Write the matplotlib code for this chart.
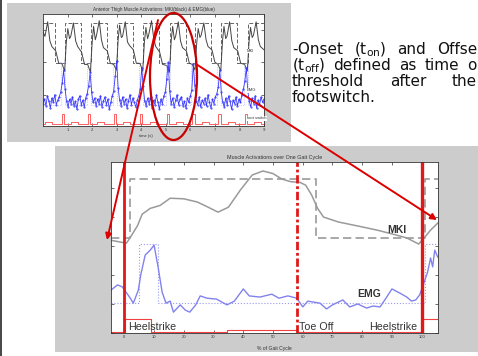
#!/usr/bin/env python3
"""Slide: MKI / EMG muscle activation over time and over one gait cycle."""

import matplotlib
matplotlib.use("Agg")
import matplotlib.pyplot as plt
from matplotlib.patches import Rectangle, Ellipse

# ---------------- top chart data (time in s, arbitrary units) ----------------
heel_strikes = [0.77, 1.82, 2.88, 3.95, 5.04, 6.08, 7.13, 8.21]
pulse_off = [0.87, 1.92, 2.98, 4.05, 5.14, 6.18, 7.23, 8.31]
mid_on = [0.10, 1.15, 2.20, 3.26, 4.34, 5.42, 6.47, 7.53, 8.60]
mid_off = [0.37, 1.42, 2.47, 3.53, 4.61, 5.69, 6.74, 7.80, 8.87]

mki_t = [0.00, 0.08, 0.19, 0.28, 0.36, 0.52, 0.64,
         0.77, 0.88, 0.95, 1.01, 1.08, 1.13, 1.24, 1.33, 1.41, 1.57, 1.69,
         1.82, 1.93, 2.00, 2.06, 2.13, 2.18, 2.29, 2.38, 2.46, 2.62, 2.74,
         2.88, 2.99, 3.06, 3.12, 3.19, 3.24, 3.35, 3.44, 3.52, 3.68, 3.80,
         3.95, 4.06, 4.13, 4.19, 4.26, 4.31, 4.42, 4.51, 4.59, 4.75, 4.87,
         5.04, 5.15, 5.22, 5.28, 5.35, 5.40, 5.51, 5.60, 5.68, 5.84, 5.96,
         6.08, 6.19, 6.26, 6.32, 6.39, 6.44, 6.55, 6.64, 6.72, 6.88, 7.00,
         7.13, 7.24, 7.31, 7.37, 7.44, 7.49, 7.60, 7.69, 7.77, 7.93, 8.05,
         8.21, 8.32, 8.39, 8.45, 8.52, 8.57, 8.68, 8.77, 8.85, 9.00]
mki_v = [0.84, 0.80, 0.93, 0.76, 0.71, 0.67, 0.56,
         0.56, 0.49, 0.75, 0.87, 0.78, 0.80, 0.92, 0.76, 0.71, 0.66, 0.55,
         0.55, 0.48, 0.74, 0.89, 0.77, 0.81, 0.94, 0.77, 0.70, 0.67, 0.56,
         0.55, 0.50, 0.77, 0.90, 0.79, 0.80, 0.93, 0.75, 0.72, 0.68, 0.56,
         0.56, 0.49, 0.75, 0.88, 0.78, 0.82, 0.94, 0.78, 0.71, 0.66, 0.55,
         0.54, 0.48, 0.76, 0.89, 0.77, 0.80, 0.93, 0.76, 0.70, 0.67, 0.56,
         0.55, 0.50, 0.74, 0.87, 0.79, 0.81, 0.92, 0.77, 0.71, 0.68, 0.57,
         0.55, 0.49, 0.76, 0.89, 0.78, 0.80, 0.93, 0.76, 0.70, 0.67, 0.56,
         0.55, 0.49, 0.75, 0.88, 0.79, 0.81, 0.93, 0.77, 0.71, 0.68]
mki_on_top = [0.89, 1.94, 3.00, 4.07, 5.16, 6.20, 7.25, 8.33]
mki_off_top = [0.50, 1.55, 2.60, 3.66, 4.73, 5.82, 6.86, 7.91, 8.99]

emg_dt = 0.06
emg_v = [0.20, 0.24, 0.18, 0.27, 0.22, 0.16, 0.25, 0.21, 0.28, 0.19,
         0.23, 0.26, 0.30, 0.38, 0.50, 0.33, 0.22, 0.17, 0.24, 0.20,
         0.26, 0.18, 0.22, 0.15, 0.24, 0.27, 0.19, 0.23, 0.17, 0.25,
         0.29, 0.36, 0.48, 0.30, 0.21, 0.25, 0.18, 0.24, 0.20, 0.27,
         0.17, 0.22, 0.26, 0.19, 0.24, 0.15, 0.21, 0.27, 0.31, 0.45,
         0.58, 0.34, 0.23, 0.18, 0.26, 0.20, 0.24, 0.16, 0.22, 0.28,
         0.19, 0.25, 0.21, 0.17, 0.23, 0.27, 0.33, 0.52, 0.36, 0.22,
         0.18, 0.25, 0.20, 0.26, 0.16, 0.23, 0.19, 0.28, 0.21, 0.15,
         0.24, 0.20, 0.27, 0.30, 0.42, 0.57, 0.31, 0.20, 0.25, 0.17,
         0.23, 0.28, 0.19, 0.24, 0.26, 0.18, 0.22, 0.16, 0.25, 0.21,
         0.27, 0.32, 0.55, 0.37, 0.22, 0.19, 0.26, 0.17, 0.23, 0.20,
         0.25, 0.18, 0.28, 0.21, 0.16, 0.24, 0.20, 0.26, 0.29, 0.35,
         0.50, 0.30, 0.21, 0.17, 0.25, 0.19, 0.27, 0.22, 0.15, 0.23,
         0.20, 0.26, 0.18, 0.24, 0.21, 0.28, 0.33, 0.40, 0.52, 0.31,
         0.22, 0.17, 0.25, 0.20, 0.27, 0.16, 0.23, 0.19, 0.26, 0.21, 0.24]
emg_on_top = [0.73, 1.78, 2.84, 3.91, 5.00, 6.04, 7.09, 8.17]
emg_off_top = [0.89, 1.94, 3.00, 4.07, 5.16, 6.20, 7.25, 8.33]

# ---------------- bottom chart data (% of gait cycle) ----------------
mki_pct = [-4.5, -2, 0.7, 2, 4.4, 6, 8.7, 12, 15.4, 20, 24.5, 28, 31.5, 35, 39,
           43, 46.6, 50, 53, 56, 59, 61, 63, 65, 67, 72, 80, 85, 90, 95, 99,
           101, 103, 105.5]
mki_val = [3.20, 3.15, 3.10, 3.30, 3.70, 4.10, 4.30, 4.40, 4.65, 4.63, 4.52,
           4.35, 4.17, 4.34, 4.93, 5.45, 5.59, 5.50, 5.31, 5.22, 5.20, 5.10,
           4.76, 4.30, 4.00, 3.83, 3.66, 3.55, 3.42, 3.28, 3.07, 3.30, 3.55, 3.80]
mki_on_pct = [2, 101]
mki_off_pct = [64.4]

emg_pct = [-4.5, -2.3, -0.7, 2, 3, 4.7, 5.5, 7, 8.7, 10, 11.4, 12.7, 14, 15.4,
           16.5, 18.8, 20.5, 22, 24, 25.5, 27.8, 31, 34.5, 37, 40, 42, 45.6,
           49.6, 52, 55, 58, 60, 61.7, 63.4, 65.8, 68, 70, 73.5, 75.8, 78.5,
           81.5, 83.6, 86, 88, 90, 92.6, 95, 96.6, 98, 99.3, 100.3, 102, 103,
           103.7, 104.4, 105.4]
emg_val = [1.48, 1.66, 1.59, 1.20, 1.03, 1.48, 2.00, 2.69, 2.86, 3.03, 2.24,
           1.41, 1.03, 1.10, 0.72, 0.97, 0.79, 0.72, 0.97, 1.28, 1.20, 1.17,
           0.97, 1.10, 1.52, 1.28, 1.24, 1.34, 1.20, 1.28, 1.20, 0.90, 1.10,
           1.07, 1.03, 0.83, 0.97, 1.14, 0.90, 1.00, 0.86, 0.93, 0.90, 1.20,
           1.52, 1.38, 1.24, 1.10, 1.14, 1.31, 1.59, 2.10, 2.59, 2.28, 2.86, 2.62]
emg_on_pct = [5, 101]
emg_off_pct = [11.4]

fs_events_pct = [(0.1, 0.5), (9.0, 0.03), (34.5, 0.12), (58.0, 0.03), (100.5, 0.5)]
event_pct = [0, 58, 100]
event_names = ["Heelstrike", "Toe Off", "Heelstrike"]

# slide text as visible in the (cropped) screenshot
slide_lines = [
    ["-Onset", r"(t$_{\mathrm{on}}$)", "and", "Offse"],
    [r"(t$_{\mathrm{off}}$)", "defined", "as", "time", "o"],
    ["threshold", "after", "the"],
    ["footswitch."],
]

W, H = 478, 356
FONT = "Liberation Sans"
plt.rcParams["font.family"] = [FONT, "DejaVu Sans"]
plt.rcParams["mathtext.fontset"] = "dejavusans"


def steps(x0, x1, level, events):
    xs, ys = [x0], [level]
    for t, new in sorted(events):
        xs += [t, t]
        ys += [level, new]
        level = new
    xs.append(x1)
    ys.append(level)
    return xs, ys


def box(x0, y0, x1, y1):
    return [x0 / W, 1 - y1 / H, (x1 - x0) / W, (y1 - y0) / H]


def matlab_axes(ax):
    for s in ax.spines.values():
        s.set_linewidth(0.6)
        s.set_color("#333333")
    ax.tick_params(direction="in", length=2, width=0.5, top=True, right=True,
                   labelsize=3, colors="#333333", pad=1.5)


fig = plt.figure(figsize=(W / 100, H / 100), dpi=100)
fig.patch.set_facecolor("white")

bg = fig.add_axes([0, 0, 1, 1], zorder=-5)
bg.set_xlim(0, W)
bg.set_ylim(H, 0)
bg.axis("off")
bg.add_patch(Rectangle((0, 0), 2, H, fc="#4a4a4a", ec="none"))
bg.add_patch(Rectangle((7, 3), 284, 139, fc="#cccccc", ec="none"))
bg.add_patch(Rectangle((55, 146), 423, 206, fc="#cccccc", ec="none"))

# ---------------- top chart ----------------
ax1 = fig.add_axes(box(43, 14, 264, 126))
matlab_axes(ax1)
tx, ty = steps(0, 9, 0.92, [(t, 0.92) for t in mki_on_top] + [(t, 0.565) for t in mki_off_top])
ax1.plot(tx, ty, color="#666666", lw=0.7, dashes=(4, 2))
ax1.plot(mki_t, mki_v, color="#444444", lw=0.7)
ex, ey = steps(0, 9, 0.19, [(t, 0.56) for t in emg_on_top] + [(t, 0.19) for t in emg_off_top])
ax1.plot(ex, ey, color="#9a9aff", lw=0.5, ls=":")
emg_t = [i * emg_dt for i in range(len(emg_v))]
ax1.plot(emg_t, emg_v, color="#3838ff", lw=0.6, marker=".", ms=1.0)
fx, fy = steps(0, 9, 0.018, [(t, 0.104) for t in heel_strikes] + [(t, 0.018) for t in pulse_off]
               + [(t, 0.04) for t in mid_on] + [(t, 0.018) for t in mid_off])
ax1.plot(fx, fy, color="#ff6060", lw=0.7)
ax1.set_xlim(0, 9)
ax1.set_ylim(0, 1)
ax1.set_xticks(range(1, 10))
ax1.set_yticks([0.28, 0.57, 0.86])
ax1.set_yticklabels([])
ax1.set_title("Anterior Thigh Muscle Activations: MKI(black) & EMG(blue)",
              fontsize=3.3, color="#333333", pad=2)
ax1.text(0.466, -0.09, "time (s)", transform=ax1.transAxes, fontsize=3,
         color="#333333", ha="center", va="center")
for label, yv in [("MKI", 0.67), ("EMG", 0.32), ("foot switch", 0.07)]:
    ax1.text(8.3, yv, label, fontsize=3, color="#333333", va="center",
             bbox=dict(fc="white", ec="none", pad=0.3))

# ---------------- bottom chart ----------------
ax2 = fig.add_axes(box(111, 162, 438, 333))
matlab_axes(ax2)
bx, by = steps(-4.5, 105.5, 3.28, [(t, 5.31) for t in mki_on_pct] + [(t, 3.28) for t in mki_off_pct])
ax2.plot(bx, by, color="#9a9a9a", lw=1.2, dashes=(5, 2.5))
ax2.plot(mki_pct, mki_val, color="#9a9a9a", lw=1.1)
qx, qy = steps(-4.5, 105.5, 1.03, [(t, 3.07) for t in emg_on_pct] + [(t, 1.03) for t in emg_off_pct])
ax2.plot(qx, qy, color="#9a9af5", lw=0.8, ls=":")
ax2.plot(emg_pct, emg_val, color="#8282ee", lw=1.0)
sx, sy = steps(-4.5, 105.5, 0.03, fs_events_pct)
ax2.plot(sx, sy, color="#f04040", lw=0.8)
ax2.axvline(event_pct[0], color="#e01818", lw=2.0)
ax2.axvline(event_pct[1], color="#e01818", lw=2.0, ls=(0, (3, 1, 1, 1)))
ax2.axvline(event_pct[2], color="#e01818", lw=2.4)
ax2.set_xlim(-4.5, 105.5)
ax2.set_ylim(0, 5.9)
ax2.set_xticks(range(0, 101, 10))
ax2.set_yticks(range(0, 6))
ax2.set_yticklabels([])
ax2.set_title("Muscle Activations over One Gait Cycle", fontsize=3.9,
              color="#333333", pad=2.5)
ax2.text(0.5, -0.09, "% of Gait Cycle", transform=ax2.transAxes, fontsize=3.6,
         color="#333333", ha="center", va="center")
for x, name in zip([1.3, 58.7, 82.2], event_names):
    ax2.text(x, 0.2, name, fontsize=7.7, color="#333333", va="center")
ax2.text(88.3, 3.55, "MKI", fontsize=7.5, fontweight="bold", color="#333333", va="center")
ax2.text(78.2, 1.34, "EMG", fontsize=7.5, fontweight="bold", color="#333333", va="center")

# ---------------- overlay: highlight, arrows, slide text ----------------
ov = fig.add_axes([0, 0, 1, 1], zorder=10)
ov.set_xlim(0, W)
ov.set_ylim(H, 0)
ov.axis("off")
ov.add_patch(Ellipse((173.5, 76.5), 47, 127, fill=False, ec="#c80000", lw=1.6))
arrow = dict(arrowstyle="-|>", color="#dd0000", lw=1.4, mutation_scale=9,
             shrinkA=0, shrinkB=0)
ov.annotate("", xy=(107, 240), xytext=(158, 20), arrowprops=arrow)
ov.annotate("", xy=(437, 220), xytext=(196, 64), arrowprops=arrow)

# justified text block running to the right edge
renderer = fig.canvas.get_renderer()
left, right = 292, 477
for i, row in enumerate(slide_lines):
    y = 50 + 16 * i
    texts = [ov.text(0, y, w, fontsize=11, family="DejaVu Sans", color="#111111",
                     va="center", ha="left") for w in row]
    widths = [t.get_window_extent(renderer).width for t in texts]
    gap = (right - left - sum(widths)) / (len(row) - 1) if len(row) > 1 else 0
    x = left
    for t, w in zip(texts, widths):
        t.set_x(x)
        x += w + gap

fig.savefig("out.png", dpi=100)
